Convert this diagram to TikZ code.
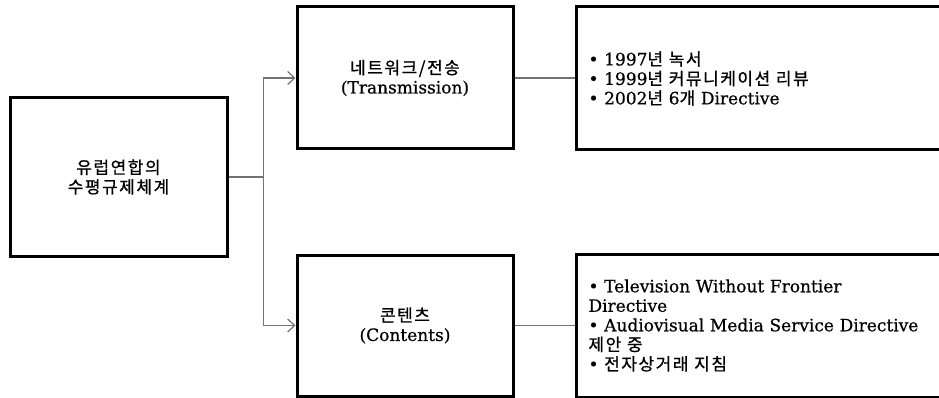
\documentclass[tikz,border=0pt]{standalone}
\usepackage{fontspec}
\setmainfont[FakeBold=0.6]{DejaVu Serif}
\newfontfamily\krfont[LetterSpace=9,FakeBold=0.8]{Noto Sans CJK KR}
\newcommand{\kor}[1]{{\krfont #1}}
\usetikzlibrary{arrows.meta}
\begin{document}
\begin{tikzpicture}[x=1pt,y=-1pt,every node/.style={font=\fontsize{17}{19.5}\selectfont},
  box/.style={draw,line width=3pt,align=center,inner sep=0pt},
  listbox/.style={box,anchor=west,align=left,text width=360pt,inner xsep=12pt,minimum height=143pt},
  link/.style={draw=gray!90!black,line width=1.2pt},
  tip/.style={-{Straight Barb[length=7pt,width=13pt]}}]
\clip (0,0) rectangle (939,398);
\node[box,minimum width=217,minimum height=158] (eu) at (118.5,177) {\kor{유럽연합의}\\\kor{수평규제체계}};
\node[box,minimum width=216,minimum height=142] (net) at (405,78) {\kor{네트워크/전송}\\(Transmission)};
\node[box,minimum width=216,minimum height=141] (cnt) at (405,325.5) {\kor{콘텐츠}\\(Contents)};
\node[listbox] (netlist) at (575,78.5) {\textbullet\ 1997\kor{년 녹서}\\\textbullet\ 1999\kor{년 커뮤니케이션 리뷰}\\\textbullet\ 2002\kor{년} 6\kor{개} Directive};
\node[listbox] (cntlist) at (575,325.5) {\textbullet\ Television Without Frontier\\Directive\\\textbullet\ Audiovisual Media Service Directive\\\kor{제안 중}\\\textbullet\ \kor{전자상거래 지침}};
\draw[link] (eu.east) -- ++(35,0) coordinate (fork);
\draw[link,tip] (fork) |- (net.west);
\draw[link,tip] (fork) |- (cnt.west);
\draw[link] (net.east) -- (net.east -| netlist.west);
\draw[link] (cnt.east) -- (cnt.east -| cntlist.west);
\end{tikzpicture}
\end{document}
